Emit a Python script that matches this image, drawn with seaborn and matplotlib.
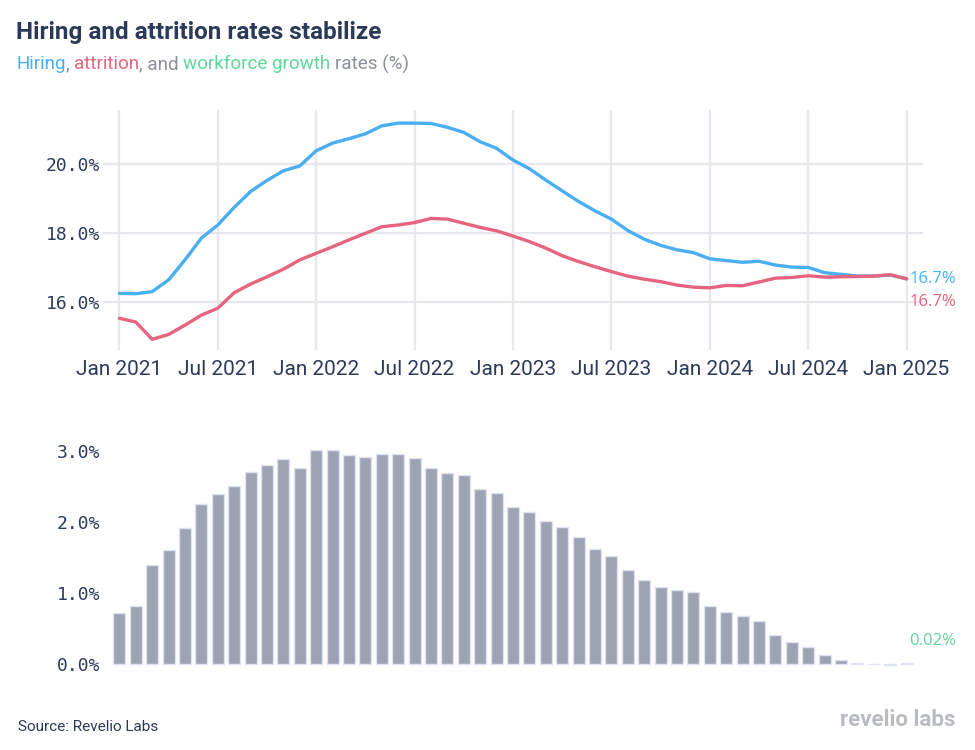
import numpy as np
import pandas as pd
import matplotlib
matplotlib.use("Agg")
import matplotlib.pyplot as plt
import seaborn as sns

# -------------------------
# DATA (monthly, Jan 2021 - Jan 2025)
# -------------------------
hiring = [16.26, 16.25, 16.31, 16.65, 17.23, 17.86, 18.24, 18.75, 19.21, 19.53,
          19.81, 19.95, 20.39, 20.61, 20.74, 20.88, 21.11, 21.19, 21.19, 21.18,
          21.07, 20.92, 20.65, 20.46, 20.12, 19.87, 19.54, 19.23, 18.92, 18.65,
          18.41, 18.08, 17.83, 17.65, 17.52, 17.44, 17.26, 17.21, 17.16, 17.19,
          17.08, 17.02, 17.01, 16.86, 16.81, 16.76, 16.76, 16.79, 16.68]
attrition = [15.54, 15.43, 14.93, 15.07, 15.34, 15.63, 15.83, 16.28, 16.53, 16.74,
             16.96, 17.23, 17.42, 17.61, 17.81, 18.00, 18.19, 18.24, 18.31, 18.43,
             18.41, 18.29, 18.17, 18.07, 17.92, 17.76, 17.57, 17.35, 17.18, 17.03,
             16.89, 16.76, 16.67, 16.60, 16.50, 16.44, 16.42, 16.49, 16.48, 16.59,
             16.70, 16.72, 16.77, 16.73, 16.74, 16.75, 16.76, 16.80, 16.68]
growth = [0.72, 0.82, 1.39, 1.61, 1.92, 2.25, 2.40, 2.51, 2.71, 2.81,
          2.89, 2.77, 3.02, 3.02, 2.95, 2.92, 2.96, 2.96, 2.91, 2.77,
          2.69, 2.66, 2.47, 2.41, 2.22, 2.14, 2.02, 1.93, 1.79, 1.62,
          1.52, 1.32, 1.19, 1.08, 1.05, 1.01, 0.82, 0.73, 0.68, 0.60,
          0.41, 0.31, 0.24, 0.12, 0.06, 0.01, 0.005, -0.02, 0.02]
months = list(range(len(hiring)))
tick_pos = [0, 6, 12, 18, 24, 30, 36, 42, 48]
tick_labels = ["Jan 2021", "Jul 2021", "Jan 2022", "Jul 2022", "Jan 2023",
               "Jul 2023", "Jan 2024", "Jul 2024", "Jan 2025"]

BLUE = "#4aaef2"
RED = "#e6647f"
GREEN = "#5fd69c"
BAR = "#9ca3b3"
NAVY = "#2c3a5a"
GRAY = "#8b9099"
GRID = "#e7e7ee"

sns.set_theme(style="white")
plt.rcParams["font.family"] = ["Roboto", "DejaVu Sans"]

fig = plt.figure(figsize=(9.75, 7.5), dpi=100)
ax1 = fig.add_axes([103 / 975, 1 - 350 / 750, 820 / 975, 240 / 750])
ax2 = fig.add_axes([103 / 975, 1 - 675 / 750, 820 / 975, 245 / 750])

# -------------------------
# TOP: hiring / attrition lines
# -------------------------
sns.lineplot(x=months, y=hiring, color=BLUE, linewidth=2.4, ax=ax1)
sns.lineplot(x=months, y=attrition, color=RED, linewidth=2.4, ax=ax1)
ax1.set_xlim(-1, 49)
ax1.set_ylim(14.62, 21.57)
ax1.set_xticks(tick_pos)
ax1.set_xticklabels(tick_labels, fontsize=15, color=NAVY)
ax1.set_yticks([16, 18, 20])
ax1.set_yticklabels([f"{v:.1f}%" for v in [16, 18, 20]],
                    family="DejaVu Sans Mono", fontsize=13, color=NAVY)
ax1.grid(True, color=GRID, linewidth=1.6)
ax1.tick_params(length=0, pad=2)
ax1.tick_params(axis="x", pad=7)
for s in ax1.spines.values():
    s.set_visible(False)
ax1.set_xlabel("")
ax1.set_ylabel("")

ax1.annotate(f"{hiring[-1]:.1f}%", xy=(months[-1], hiring[-1]), xytext=(3, 0),
             textcoords="offset pixels", va="center", ha="left",
             color=BLUE, fontsize=12, family="Open Sans")
ax1.annotate(f"{attrition[-1]:.1f}%", xy=(months[-1], attrition[-1]), xytext=(3, -23),
             textcoords="offset pixels", va="center", ha="left",
             color=RED, fontsize=12, family="Open Sans")

# -------------------------
# BOTTOM: workforce growth bars
# -------------------------
bar_colors = [BAR] * (len(growth) - 1) + [GREEN]
sns.barplot(x=months, y=growth, hue=months, palette=bar_colors, legend=False,
            saturation=1, width=0.74, edgecolor="#dfe3ef", linewidth=1, ax=ax2)
ax2.set_xlim(-1, 49)
ax2.set_ylim(-0.155, 3.30)
ax2.set_xticks([])
ax2.set_yticks([0, 1, 2, 3])
ax2.set_yticklabels([f"{v:.1f}%" for v in [0, 1, 2, 3]],
                    family="DejaVu Sans Mono", fontsize=13, color=NAVY)
ax2.tick_params(length=0, pad=2)
ax2.grid(False)
for s in ax2.spines.values():
    s.set_visible(False)
ax2.set_xlabel("")
ax2.set_ylabel("")

ax2.annotate(f"{growth[-1]:.2f}%", xy=(months[-1], growth[-1]), xytext=(3, 22),
             textcoords="offset pixels", va="center", ha="left",
             color=GREEN, fontsize=12, family="Open Sans")

# -------------------------
# TITLES / FOOTER
# -------------------------
fig.text(16 / 975, 1 - 33 / 750, "Hiring and attrition rates stabilize",
         fontsize=17.5, fontweight="bold", color=NAVY, va="center", ha="left")

renderer = fig.canvas.get_renderer()
sub_parts = [("Hiring", BLUE), (", ", GRAY), ("attrition", RED), (", and ", GRAY),
             ("workforce growth", GREEN), (" rates (%)", GRAY)]
sub_kw = dict(fontsize=13.6, va="center", ha="left")


def text_width(s):
    t = fig.text(0, 0, s, **sub_kw)
    w = t.get_window_extent(renderer).width
    t.remove()
    return w


x0 = 16
bar_w = text_width("|")
prefix = ""
for s, c in sub_parts:
    lead = len(s) - len(s.lstrip())
    pos = x0 + (text_width(prefix + s[:lead] + "|") - bar_w if (prefix + s[:lead]) else 0)
    fig.text(pos / 975, 1 - 64 / 750, s.lstrip(), color=c, **sub_kw)
    prefix += s

fig.text(18 / 975, 1 - 727 / 750, "Source: Revelio Labs", fontsize=11,
         color=NAVY, va="center", ha="left")
fig.text(955 / 975, 1 - 720 / 750, "revelio labs", fontsize=16, fontweight="bold",
         color="#b9bcc3", va="center", ha="right")

fig.savefig("out.png", dpi=100)
